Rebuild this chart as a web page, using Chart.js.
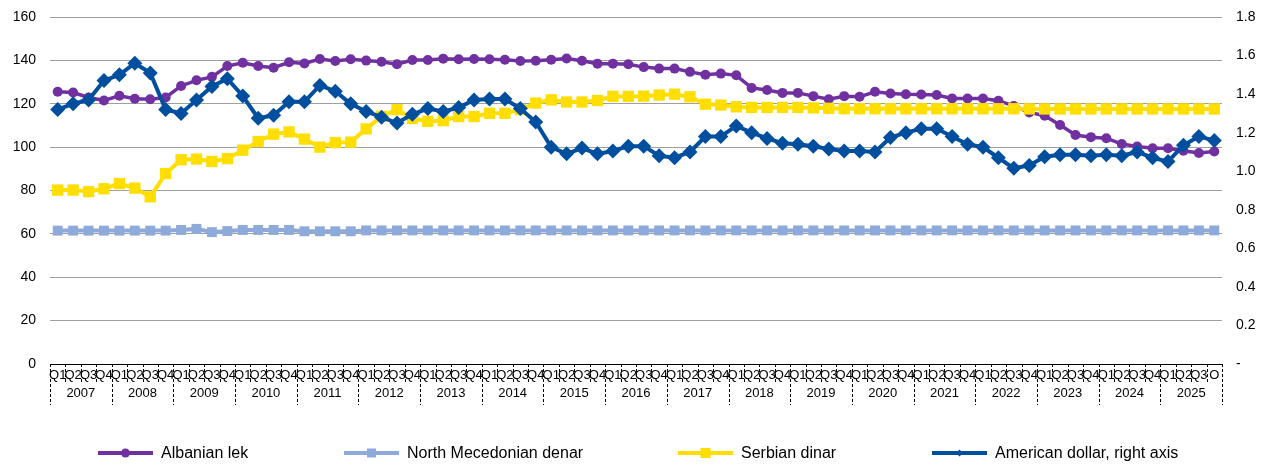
<!DOCTYPE html>
<html>
<head>
<meta charset="utf-8">
<title>Exchange rates</title>
<script src="https://cdn.jsdelivr.net/npm/chart.js@4.4.1/dist/chart.umd.min.js"></script>
<style>
  body { margin: 0; background: #fff; }
  #wrap { position: relative; width: 1270px; height: 468px; }
  #legend { position: absolute; left: 0; top: 444px; width: 1270px; height: 18px; }
  .item { position: absolute; top: 0; height: 18px; display: flex; align-items: center;
          font: 16px "Liberation Sans", Arial, sans-serif; color: #000; white-space: nowrap; }
  .item svg { margin-right: 8px; }
</style>
</head>
<body>
<div id="wrap">
  <canvas id="fxChart" width="1270" height="468"></canvas>
  <div id="legend"></div>
</div>
<script>
// quarters 2007 Q1 .. 2025 Q3 + October
const years = ['2007', '2008', '2009', '2010', '2011', '2012', '2013', '2014', '2015', '2016',
  '2017', '2018', '2019', '2020', '2021', '2022', '2023', '2024', '2025'];
const quarters = ['Q1', 'Q2', 'Q3', 'Q4'];
const lastYearQuarters = ['Q1', 'Q2', 'Q3', 'O'];

const albanianLek = [
  125.5, 125.2, 122.9, 121.5, 123.7, 122.3, 122.1, 122.9, 128.2, 130.8, 132.4, 137.4,
  138.9, 137.4, 136.6, 139.1, 138.6, 140.6, 139.7, 140.5, 139.9, 139.4, 138.2, 140.2,
  140.2, 140.8, 140.5, 140.6, 140.5, 140.3, 139.7, 139.8, 140.3, 140.9, 139.8, 138.5,
  138.5, 138.2, 136.9, 136.2, 136.2, 134.7, 133.4, 133.9, 133.1, 127.3, 126.3, 125.0,
  125.0, 123.5, 122.1, 123.5, 123.2, 125.5, 124.7, 124.4, 124.3, 124.0, 122.4, 122.4,
  122.4, 121.4, 119.0, 116.0, 114.5, 110.2, 105.6, 104.6, 104.1, 101.4, 100.3, 99.5,
  99.5, 98.3, 97.3, 98.0
];
const macedonianDenar = [
  61.5, 61.5, 61.5, 61.5, 61.5, 61.5, 61.5, 61.5, 61.8, 62.3, 60.8, 61.3,
  61.8, 61.8, 61.8, 61.8, 61.2, 61.2, 61.2, 61.2, 61.6, 61.6, 61.6, 61.6,
  61.6, 61.6, 61.6, 61.6, 61.6, 61.6, 61.6, 61.6, 61.6, 61.6, 61.6, 61.6,
  61.6, 61.6, 61.6, 61.6, 61.6, 61.6, 61.6, 61.6, 61.6, 61.6, 61.6, 61.6,
  61.6, 61.6, 61.6, 61.6, 61.6, 61.6, 61.6, 61.6, 61.6, 61.6, 61.6, 61.6,
  61.6, 61.6, 61.6, 61.6, 61.6, 61.6, 61.6, 61.6, 61.6, 61.6, 61.6, 61.6,
  61.6, 61.6, 61.6, 61.6
];
const serbianDinar = [
  80.2, 80.2, 79.5, 80.8, 83.2, 81.1, 77.1, 87.8, 94.2, 94.5, 93.4, 94.7,
  98.6, 102.6, 106.0, 107.0, 103.7, 100.0, 102.1, 102.3, 108.4, 114.2, 117.3, 113.2,
  111.9, 112.2, 114.1, 114.1, 115.6, 115.6, 117.3, 120.3, 121.8, 120.8, 120.8, 121.5,
  123.4, 123.4, 123.5, 124.0, 124.4, 123.2, 119.8, 119.4, 118.6, 118.3, 118.3, 118.3,
  118.3, 118.1, 117.9, 117.7, 117.7, 117.7, 117.7, 117.7, 117.7, 117.7, 117.7, 117.7,
  117.7, 117.7, 117.7, 117.6, 117.6, 117.6, 117.6, 117.6, 117.6, 117.6, 117.6, 117.6,
  117.6, 117.6, 117.6, 117.6
];
const americanDollar = [
  1.32, 1.35, 1.37, 1.47, 1.50, 1.56, 1.51, 1.32, 1.30, 1.37, 1.44, 1.48,
  1.39, 1.275, 1.29, 1.36, 1.36, 1.445, 1.415, 1.35, 1.31, 1.28, 1.25, 1.295,
  1.325, 1.31, 1.33, 1.37, 1.375, 1.375, 1.325, 1.255, 1.125, 1.09, 1.12, 1.09,
  1.105, 1.13, 1.13, 1.08, 1.07, 1.10, 1.18, 1.18, 1.235, 1.20, 1.17, 1.145,
  1.14, 1.13, 1.115, 1.105, 1.105, 1.10, 1.175, 1.20, 1.22, 1.22, 1.18, 1.14,
  1.125, 1.07, 1.015, 1.03, 1.075, 1.085, 1.085, 1.08, 1.085, 1.08, 1.10, 1.07,
  1.05, 1.135, 1.18, 1.16
];

const categories = [];
years.forEach((y, k) => {
  (k === years.length - 1 ? lastYearQuarters : quarters).forEach(q => categories.push(q));
});

const FONT = '"Liberation Sans", Arial, sans-serif';
const PURPLE = '#7030a0', LIGHTBLUE = '#8eaadb', YELLOW = '#ffde00', BLUE = '#004f9f';

// quarter ticks, year separators and year labels under the axis
const yearAxis = {
  id: 'yearAxis',
  afterDraw(chart) {
    const { ctx, chartArea, scales: { x } } = chart;
    const y0 = chartArea.bottom;
    ctx.save();
    ctx.strokeStyle = '#000';
    ctx.lineWidth = 1;
    ctx.setLineDash([3, 2]);
    for (let i = 0; i <= categories.length; i++) {
      const px = Math.round(x.getPixelForValue(i - 0.5)) + 0.5;
      const len = i % 4 === 0 ? 41 : 18;
      ctx.beginPath();
      ctx.moveTo(px, y0);
      ctx.lineTo(px, y0 + len);
      ctx.stroke();
    }
    ctx.setLineDash([]);
    ctx.fillStyle = '#000';
    ctx.font = '13px ' + FONT;
    ctx.textAlign = 'center';
    ctx.textBaseline = 'middle';
    years.forEach((yr, k) => {
      ctx.fillText(yr, x.getPixelForValue(4 * k + 1.5), y0 + 29);
    });
    ctx.restore();
  }
};

// fixed side widths; no extra vertical padding for the tick labels
const fitSide = w => s => { s.width = w; s.paddingTop = 0; s.paddingBottom = 0; };

new Chart(document.getElementById('fxChart'), {
  type: 'line',
  data: {
    labels: categories,
    datasets: [
      { label: 'Albanian lek', data: albanianLek, yAxisID: 'y', order: 4,
        borderColor: PURPLE, backgroundColor: PURPLE, borderWidth: 3.5,
        pointStyle: 'circle', pointRadius: 5, pointBorderWidth: 0 },
      { label: 'North Mecedonian denar', data: macedonianDenar, yAxisID: 'y', order: 3,
        borderColor: LIGHTBLUE, backgroundColor: LIGHTBLUE, borderWidth: 4,
        pointStyle: 'rect', pointRadius: 7, pointBorderWidth: 0 },
      { label: 'Serbian dinar', data: serbianDinar, yAxisID: 'y', order: 2,
        borderColor: YELLOW, backgroundColor: YELLOW, borderWidth: 4,
        pointStyle: 'rect', pointRadius: 8, pointBorderWidth: 0 },
      { label: 'American dollar, right axis', data: americanDollar, yAxisID: 'y2', order: 1,
        borderColor: BLUE, backgroundColor: BLUE, borderWidth: 4,
        pointStyle: 'rectRot', pointRadius: 7.5, pointBorderWidth: 0 }
    ]
  },
  options: {
    responsive: false,
    animation: false,
    devicePixelRatio: 1,
    layout: { padding: { top: 17, left: 0, right: 0, bottom: 0 } },
    plugins: {
      legend: { display: false },
      tooltip: { enabled: false }
    },
    scales: {
      x: {
        type: 'category',
        offset: true,
        grid: { display: false, drawTicks: false },
        border: { display: true, color: '#000', width: 1, dash: [4, 2] },
        ticks: { autoSkip: false, maxRotation: 0, minRotation: 0, padding: 4,
                 color: '#000', font: { family: FONT, size: 13 } },
        afterFit: s => { s.height = 104; }
      },
      y: {
        position: 'left',
        min: 0, max: 160,
        ticks: { stepSize: 20, padding: 14, color: '#000', font: { family: FONT, size: 14 } },
        grid: { color: c => c.tick.value === 0 ? 'rgba(0,0,0,0)' : '#9f9f9f', drawTicks: false },
        border: { display: false },
        afterFit: fitSide(50)
      },
      y2: {
        position: 'right',
        min: 0, max: 1.8,
        ticks: { stepSize: 0.2, padding: 14, color: '#000', font: { family: FONT, size: 14 },
                 callback: v => Math.abs(v) < 1e-9 ? '-' : v.toFixed(1) },
        grid: { display: false, drawTicks: false },
        border: { display: false },
        afterFit: fitSide(48)
      }
    }
  },
  plugins: [yearAxis]
});

// legend below the chart: line sample with marker, then the name
const legendItems = [
  { text: 'Albanian lek', left: 98, color: PURPLE,
    marker: '<circle cx="27.5" cy="9" r="4.5"/>' },
  { text: 'North Mecedonian denar', left: 344, color: LIGHTBLUE,
    marker: '<rect x="23" y="4.5" width="9" height="9"/>' },
  { text: 'Serbian dinar', left: 678, color: YELLOW,
    marker: '<rect x="22.5" y="4" width="10" height="10"/>' },
  { text: 'American dollar, right axis', left: 932, color: BLUE,
    marker: '<polygon points="27.5,5.5 31,9 27.5,12.5 24,9"/>' }
];
const legendEl = document.getElementById('legend');
legendItems.forEach(it => {
  const d = document.createElement('div');
  d.className = 'item';
  d.style.left = it.left + 'px';
  d.innerHTML = '<svg width="55" height="18" fill="' + it.color + '">' +
    '<line x1="0" y1="9" x2="55" y2="9" stroke="' + it.color + '" stroke-width="4"/>' +
    it.marker + '</svg><span>' + it.text + '</span>';
  legendEl.appendChild(d);
});
</script>
</body>
</html>
